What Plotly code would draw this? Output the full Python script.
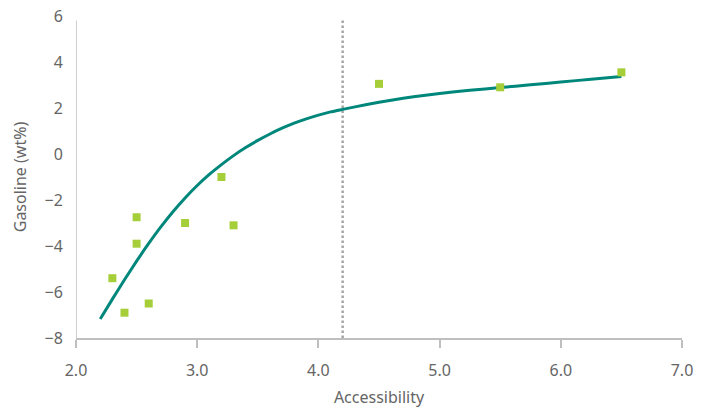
import plotly.graph_objects as go

# Measured samples
accessibility = [2.3, 2.4, 2.5, 2.5, 2.6, 2.9, 3.2, 3.3, 4.5, 5.5, 6.5]
gasoline = [-5.4, -6.9, -2.75, -3.9, -6.5, -3.0, -1.0, -3.1, 3.05, 2.9, 3.55]

# Fitted trend curve
trend_x = [2.2, 2.3, 2.4, 2.5, 2.6, 2.7, 2.8, 2.9, 3.0, 3.1, 3.2, 3.3, 3.4,
           3.5, 3.6, 3.7, 3.8, 3.9, 4.0, 4.1, 4.2, 4.4, 4.6, 4.8, 5.0, 5.25,
           5.5, 5.75, 6.0, 6.25, 6.5]
trend_y = [-7.17, -6.31, -5.47, -4.66, -3.89, -3.17, -2.51, -1.91, -1.37,
           -0.89, -0.46, -0.07, 0.28, 0.59, 0.87, 1.12, 1.34, 1.53, 1.69,
           1.83, 1.94, 2.15, 2.34, 2.50, 2.63, 2.77, 2.89, 3.01, 3.13, 3.25,
           3.37]

threshold_x = 4.2

x_ticks = [2.0, 3.0, 4.0, 5.0, 6.0, 7.0]
x_labels = ["2.0", "3.0", "4.0", "5.0", "6.0", "7.0"]
y_ticks = [-8, -6, -4, -2, 0, 2, 4, 6]
y_labels = ["\u22128", "\u22126", "\u22124", "\u22122", "0", "2", "4", "6"]

axis_col = "#bfbfbf"
text_col = "#656565"
font_family = "Noto Sans"

fig = go.Figure()

fig.add_trace(go.Scatter(
    x=trend_x, y=trend_y, mode="lines",
    line=dict(color="#00877b", width=3, shape="spline", smoothing=0.6),
    hoverinfo="skip", showlegend=False,
))

fig.add_trace(go.Scatter(
    x=accessibility, y=gasoline, mode="markers",
    marker=dict(symbol="square", size=8, color="#a6ce39"),
    showlegend=False,
))

# Threshold marker line and the vertical axis line
fig.add_shape(type="line", x0=threshold_x, x1=threshold_x, y0=-8, y1=5.8,
              xref="x", yref="y",
              line=dict(color="#a6a6a6", width=2.5, dash="2.5px,2.5px"),
              layer="below")
fig.add_shape(type="line", x0=2.0, x1=2.0, y0=-8, y1=5.8,
              xref="x", yref="y",
              line=dict(color=axis_col, width=1.5), layer="below")

fig.update_layout(
    width=706, height=408,
    margin=dict(l=75.5, r=24, t=16, b=70),
    plot_bgcolor="white", paper_bgcolor="white",
    font=dict(family=font_family, size=16, color=text_col),
    xaxis=dict(
        range=[2.0, 7.0], tickvals=x_ticks, ticktext=x_labels,
        automargin=False,
        showgrid=False, zeroline=False,
        showline=True, linecolor=axis_col, linewidth=1.5,
        ticks="outside", ticklen=8, tickwidth=1.5, tickcolor=axis_col,
        ticklabelstandoff=9,
        tickfont=dict(size=16, color=text_col),
        title=dict(text="Accessibility", font=dict(size=16, color=text_col),
                   standoff=15),
    ),
    yaxis=dict(
        range=[-8, 6], tickvals=y_ticks, ticktext=y_labels,
        automargin=False,
        showgrid=False, zeroline=False, showline=False,
        ticks="outside", ticklen=9, tickcolor="rgba(0,0,0,0)",
        tickfont=dict(size=16, color=text_col),
        title=dict(text="Gasoline (wt%)", font=dict(size=16, color=text_col),
                   standoff=13),
    ),
)

fig.write_html("out.html")
